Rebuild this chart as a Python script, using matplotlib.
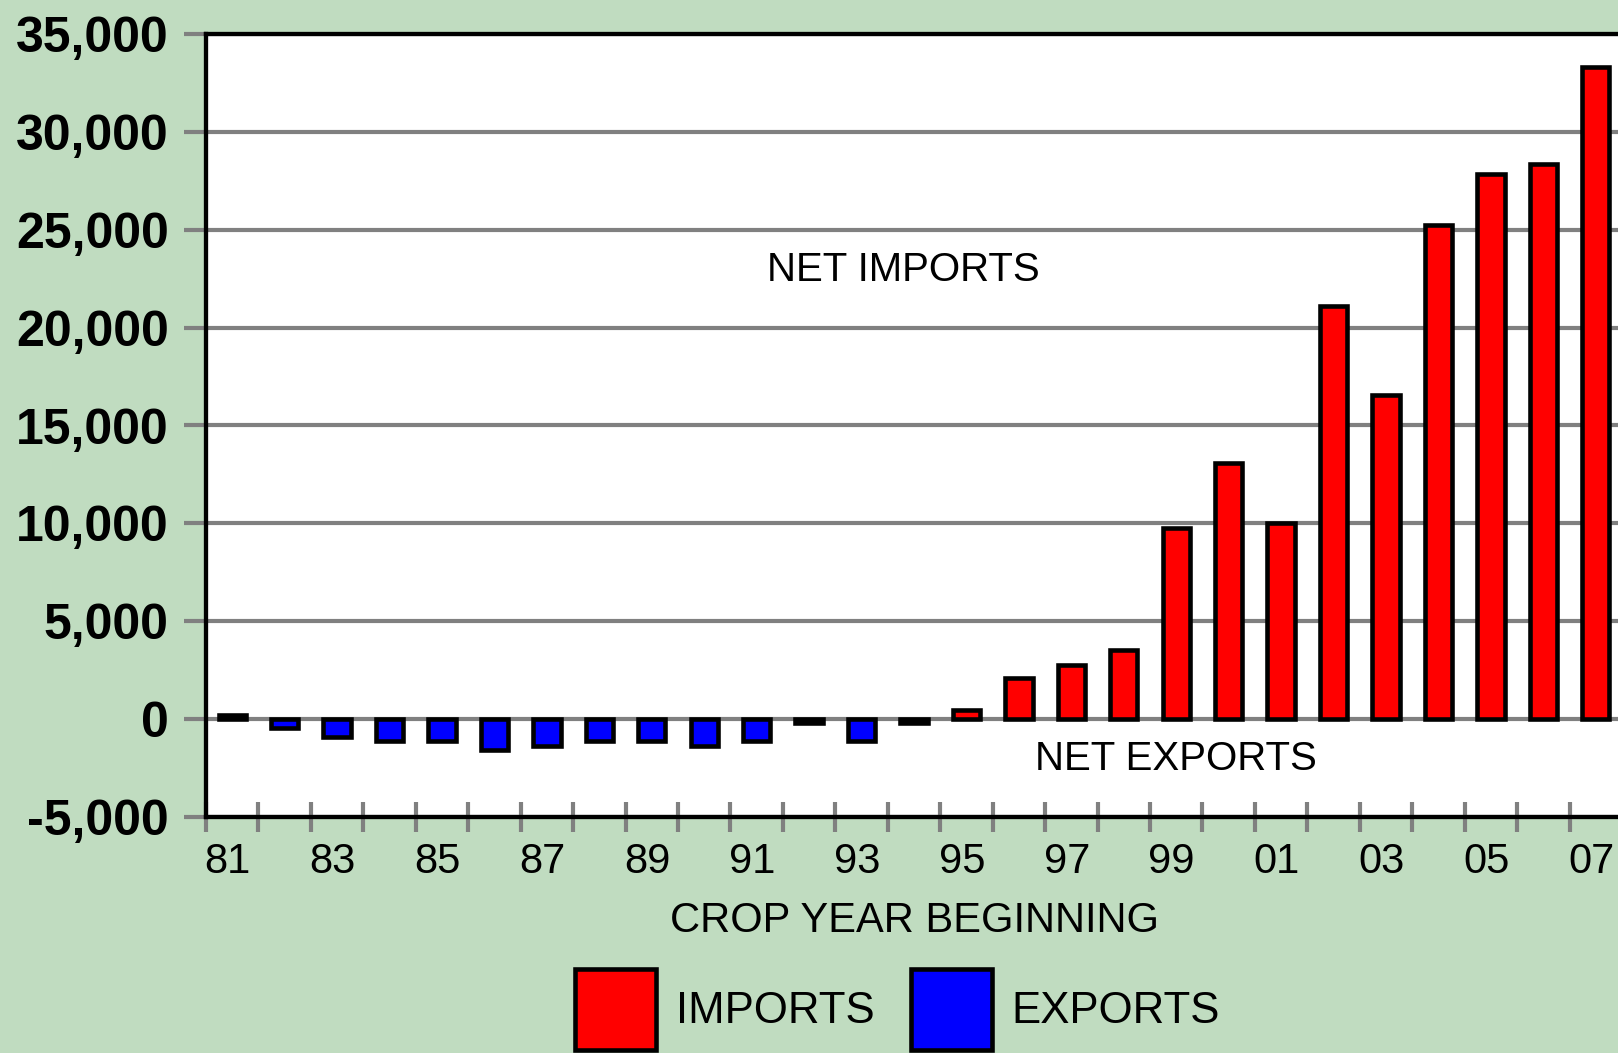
import numpy as np
import matplotlib
matplotlib.use("Agg")
import matplotlib.pyplot as plt
from matplotlib.ticker import FuncFormatter
from matplotlib.transforms import ScaledTranslation

plt.rcParams['font.family'] = ['Liberation Sans', 'DejaVu Sans']

# ---- data (crop year beginning, net imports (+) / net exports (-)) ----
years = ['81', '82', '83', '84', '85', '86', '87', '88', '89', '90', '91', '92', '93', '94',
         '95', '96', '97', '98', '99', '00', '01', '02', '03', '04', '05', '06', '07']
net_trade = [210, -465, -905, -1110, -1110, -1565, -1360, -1110, -1110, -1360, -1110, -200,
             -1110, -200, 460, 2110, 2790, 3510, 9780, 13060, 10000, 21100, 16550, 25220,
             27860, 28350, 33330]
y_ticks = [-5000, 0, 5000, 10000, 15000, 20000, 25000, 30000, 35000]
series_labels = ['IMPORTS', 'EXPORTS']

BG = '#C0DCC0'
GRID = '#808080'

net = np.array(net_trade, dtype=float)
idx = np.arange(len(years))
imports = np.where(net > 0, net, 0.0)
exports = np.where(net < 0, net, 0.0)

fig = plt.figure(figsize=(16.18, 10.53), dpi=100, facecolor=BG)
ax = fig.add_axes([206 / 1618, 1 - 817 / 1053, (1622 - 206) / 1618, (817 - 34) / 1053])
ax.set_facecolor('white')

bw = 0.52
ew = 3.3
imp_mask = net > 0
exp_mask = net < 0
b1 = ax.bar(idx[imp_mask], imports[imp_mask], width=bw, color='#FF0000',
            edgecolor='black', linewidth=ew, label=series_labels[0], zorder=3)
b2 = ax.bar(idx[exp_mask], exports[exp_mask], width=bw, color='#0000FF',
            edgecolor='black', linewidth=ew, label=series_labels[1], zorder=3)

ax.set_xlim(-0.5, len(years) - 0.5)
ax.set_ylim(-5000, 35000)

# y axis
ax.set_yticks(y_ticks)
ax.yaxis.set_major_formatter(FuncFormatter(lambda v, p: f"{int(v):,}"))
ax.yaxis.grid(True, color=GRID, linewidth=3.0, zorder=1)
ax.set_axisbelow(True)
ax.tick_params(axis='y', direction='out', length=16, width=3.0, color=GRID,
               pad=11, labelsize=36, labelcolor='black')
for t in ax.get_yticklabels():
    t.set_fontweight('bold')

# x axis: ticks at category boundaries, labels at centres (every other year)
ax.set_xticks(np.arange(len(years) + 1) - 0.5)
ax.set_xticklabels([])
ax.tick_params(axis='x', which='major', direction='inout', length=22, width=3.0, color=GRID)
ax.set_xticks(idx, [y if i % 2 == 0 else '' for i, y in enumerate(years)], minor=True)
ax.tick_params(axis='x', which='minor', length=0, pad=18, labelsize=30, labelcolor='black')
shift = ScaledTranslation(-4.5 / 100, 0, fig.dpi_scale_trans)
for t in ax.xaxis.get_minorticklabels():
    t.set_transform(t.get_transform() + shift)

ax.set_xlabel('CROP YEAR BEGINNING', fontsize=30, labelpad=14, color='black')

for side in ['left', 'bottom', 'top', 'right']:
    ax.spines[side].set_color('black')
    ax.spines[side].set_linewidth(3.1)

ax.text(12.8, 22950, 'NET IMPORTS', fontsize=29, ha='center', va='center', color='black')
ax.text(18.0, -2050, 'NET EXPORTS', fontsize=29, ha='center', va='center', color='black')

fig.legend(handles=[b1, b2], labels=series_labels, loc='lower left',
           bbox_to_anchor=(575 / 1618, 0.003), frameon=False, fontsize=31.5,
           handlelength=1.84, handleheight=2.454, handletextpad=0.46,
           columnspacing=0.84, borderpad=0, borderaxespad=0, ncol=2)

fig.savefig('out.png', dpi=100, facecolor=BG)
